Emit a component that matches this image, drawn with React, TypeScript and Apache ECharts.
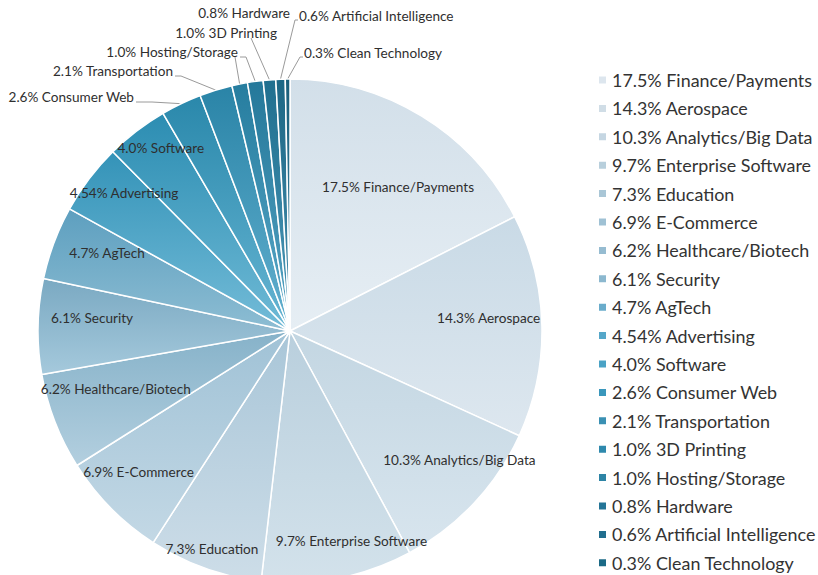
import React, { useEffect, useRef } from "react";
import * as echarts from "echarts";

// ---- data ----
const categories = [
  "Finance/Payments",
  "Aerospace",
  "Analytics/Big Data",
  "Enterprise Software",
  "Education",
  "E-Commerce",
  "Healthcare/Biotech",
  "Security",
  "AgTech",
  "Advertising",
  "Software",
  "Consumer Web",
  "Transportation",
  "3D Printing",
  "Hosting/Storage",
  "Hardware",
  "Artificial Intelligence",
  "Clean Technology",
];
const valueText = [
  "17.5", "14.3", "10.3", "9.7", "7.3", "6.9", "6.2", "6.1", "4.7",
  "4.54", "4.0", "2.6", "2.1", "1.0", "1.0", "0.8", "0.6", "0.3",
];
const values = valueText.map(Number);

// ---- styles ----
const topColors = [
  "#d2dfe9", "#c9dae6", "#c3d6e2", "#b9cfdd", "#a9c6d8", "#a0c2d6",
  "#86b2c9", "#7aa9c2", "#5d9fbf", "#3493b8", "#2c8db2", "#2a88ab",
  "#2a84a7", "#267d9f", "#24789a", "#1f6f8f", "#1c6785", "#1a5f7b",
];
const bottomColors = [
  "#e6eef4", "#dde7ef", "#d8e5ee", "#d3e2eb", "#cddde8", "#c3d8e5",
  "#b3cfdf", "#a5c9dc", "#8dbdd3", "#74bcd8", "#6fbad6", "#66b5d3",
  "#62b0cf", "#5aa8c8", "#55a3c3", "#4c98b8", "#4790b0", "#408aaa",
];
const legendColors = [
  "#dde6ee", "#d0dde6", "#c5d6e2", "#b8cfdc", "#a9c6d6", "#9fc1d4",
  "#96bcd1", "#8cb8cf", "#6aaccb", "#55a7c9", "#4aa2c5", "#3a97bc",
  "#3a90b3", "#2e89ad", "#2d84a5", "#247597", "#216e8e", "#1b6a86",
];

const CX = 290;
const CY = 331;
const R = 252;
const OUTSIDE_FROM = 11;

// inside label placement: [angle offset from slice middle (deg), radius fraction]
const insideLabelPlace: [number, number][] = [
  [5.4, 0.714], [-2.4, 0.79], [-5.8, 0.845], [-5.4, 0.87], [0, 0.917],
  [1.8, 0.82], [2.8, 0.728], [2.6, 0.787], [2.7, 0.79], [2.5, 0.855], [2.3, 0.89],
];
// outside label placement: text anchor x, y, align, and line bend points
const outsideLabelPlace: { x: number; y: number; align: string; line: number[][] }[] = [
  { x: 134, y: 97, align: "right", line: [[152, 102], [136, 102]] },
  { x: 173, y: 71, align: "right", line: [[181, 76], [175, 76]] },
  { x: 277, y: 33, align: "right", line: [[235, 57]] },
  { x: 238, y: 52, align: "right", line: [[246, 57], [240, 57]] },
  { x: 290, y: 13, align: "right", line: [[251, 38]] },
  { x: 299, y: 16, align: "left", line: [[295, 20], [298, 20]] },
  { x: 304, y: 53, align: "left", line: [[300, 57], [303, 57]] },
];

const total = values.reduce((a, b) => a + b, 0);
const midAngles: number[] = [];
{
  let acc = 0;
  for (const v of values) {
    midAngles.push(((acc + v / 2) / total) * 360);
    acc += v;
  }
}
const pt = (angDeg: number, r: number) => {
  const a = (angDeg * Math.PI) / 180;
  return [CX + r * Math.sin(a), CY - r * Math.cos(a)];
};

const FONT = "Lato, 'Open Sans', sans-serif";

export default function App() {
  const ref = useRef<HTMLDivElement>(null);
  useEffect(() => {
    document.body.style.margin = "0";
    const chart = echarts.init(ref.current!, null, { renderer: "svg" });
    const names = categories.map((c, i) => `${valueText[i]}% ${c}`);
    chart.setOption({
      animation: false,
      backgroundColor: "#ffffff",
      legend: {
        orient: "vertical",
        left: 597,
        top: 70,
        padding: 0,
        itemWidth: 9,
        itemHeight: 9,
        itemGap: 8.4,
        icon: "rect",
        selectedMode: false,
        textStyle: { fontSize: 17.9, lineHeight: 20, color: "#333", fontFamily: FONT },
        data: names.map((n, i) => ({ name: n, itemStyle: { color: legendColors[i] } })),
      },
      series: [
        {
          type: "pie",
          center: [CX, CY],
          radius: R,
          startAngle: 90,
          clockwise: true,
          avoidLabelOverlap: false,
          emphasis: { disabled: true },
          itemStyle: { borderColor: "#ffffff", borderWidth: 1.5 },
          label: {
            show: true,
            position: "inside",
            color: "#2f2f2f",
            fontSize: 13.6,
            fontFamily: FONT,
          },
          labelLine: { show: false },
          data: values.map((v, i) => ({
            name: names[i],
            value: v,
            itemStyle: {
              color: new echarts.graphic.LinearGradient(0, 0, 0, 1, [
                { offset: 0, color: topColors[i] },
                { offset: 1, color: bottomColors[i] },
              ]),
            },
            ...(i >= OUTSIDE_FROM
              ? {
                  label: { position: "outside", color: "#2f2f2f" },
                  labelLine: { show: true, lineStyle: { color: "#9a9a9a", width: 1 } },
                }
              : {}),
          })),
          labelLayout: (p: any) => {
            const i = p.dataIndex;
            if (i < OUTSIDE_FROM) {
              const [off, fr] = insideLabelPlace[i];
              const [x, y] = pt(midAngles[i] + off, R * fr);
              return { x, y, align: "center", verticalAlign: "middle" };
            }
            const o = outsideLabelPlace[i - OUTSIDE_FROM];
            const p0 = pt(midAngles[i], R);
            return {
              x: o.x,
              y: o.y,
              align: o.align,
              verticalAlign: "middle",
              labelLinePoints: [p0, ...o.line],
            };
          },
        },
      ],
    });
    return () => chart.dispose();
  }, []);
  return (
    <div
      ref={ref}
      style={{ position: "absolute", left: 0, top: 0, width: 818, height: 575 }}
    />
  );
}
